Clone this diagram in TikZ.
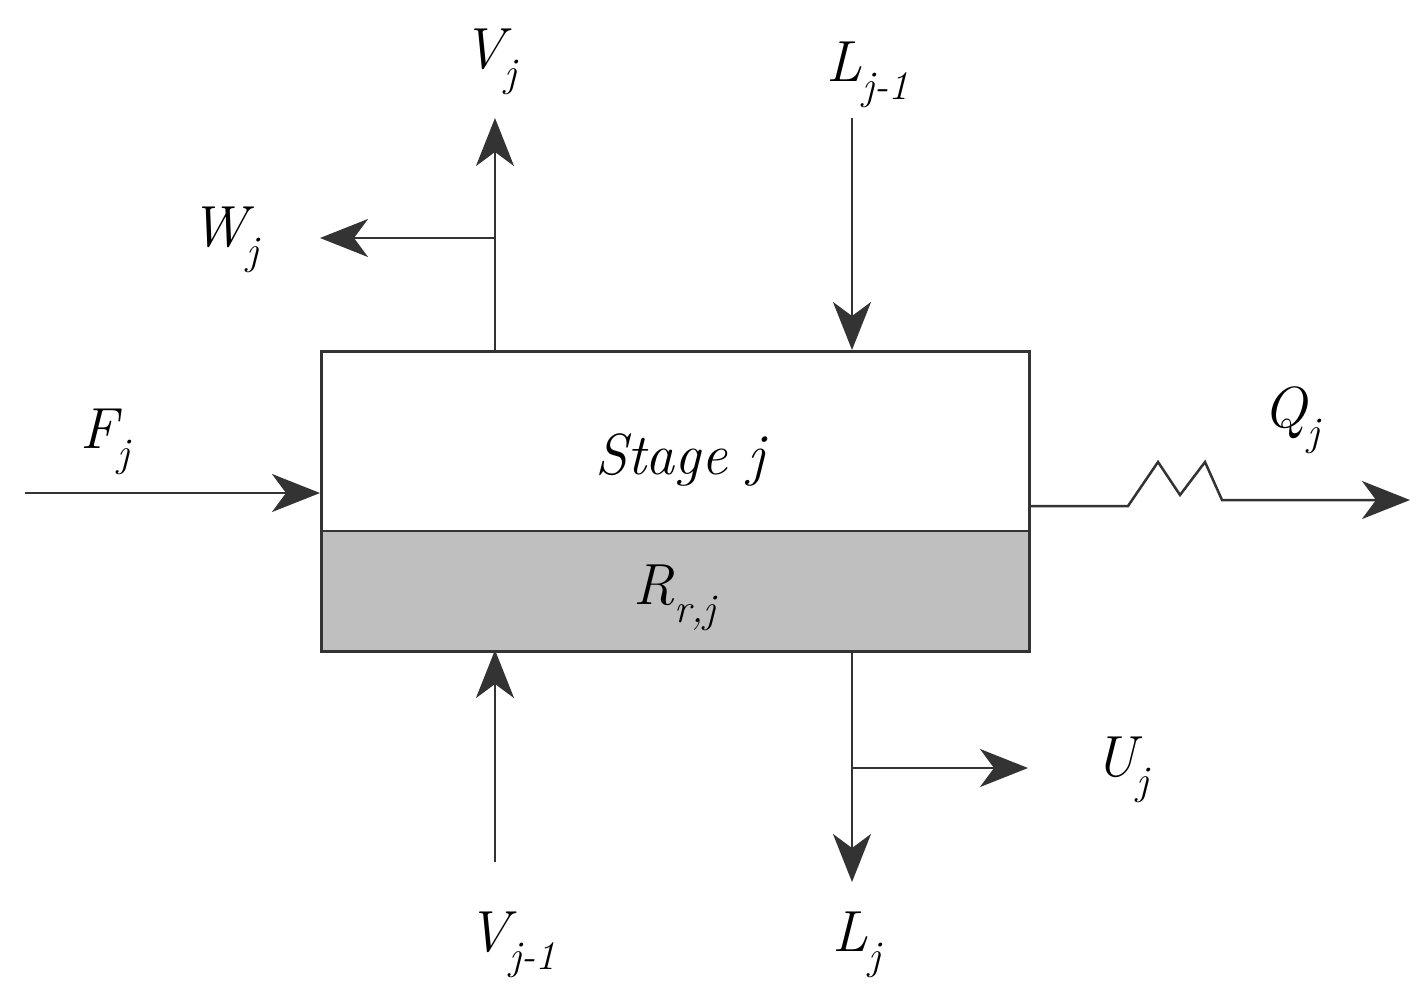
\documentclass[tikz,border=0pt]{standalone}
\usetikzlibrary{arrows.meta}
\begin{document}
\begin{tikzpicture}[x=1pt,y=-1pt,
  ln/.style={line width=2.5pt,draw=black!80},
  ar/.style={ln,-{Stealth[length=48pt,width=38pt,inset=14pt]}},
  lab/.style={font=\fontsize{58}{60}\selectfont\itshape,inner sep=0}]
\useasboundingbox (0,0) rectangle (1423,1007);
\fill[black!25] (320,531) rectangle (1028,650);
\node[draw,line width=2.5pt,draw=black!80,minimum width=708pt,minimum height=300pt,anchor=north west,inner sep=0] (box) at (320,350) {};
\draw[ln] (320,531) -- (1028,531);
\coordinate (vt) at (495,118);
\coordinate (vb) at (495,350);
\coordinate (wj) at (495,238);
\coordinate (wl) at (320,238);
\coordinate (lt) at (852,118);
\coordinate (lb) at (852,350);
\coordinate (fl) at (25,493);
\coordinate (fr) at (320,493);
\coordinate (v1b) at (495,862);
\coordinate (v1t) at (495,650);
\coordinate (ljt) at (852,650);
\coordinate (ljb) at (852,882);
\coordinate (uj) at (852,768);
\coordinate (ujr) at (1028,768);
\coordinate (q0) at (1028,506);
\coordinate (qe) at (1410,500);
\draw[ar] (vb) -- (vt);
\draw[ar] (wj) -- (wl);
\draw[ar] (lt) -- (lb);
\draw[ar] (fl) -- (fr);
\draw[ar] (v1b) -- (v1t);
\draw[ar] (ljt) -- (ljb);
\draw[ar] (uj) -- (ujr);
\draw[ar] (q0) -- (1128,506) -- (1158,462) -- (1180,495) -- (1205,462) -- (1222,500) -- (qe);
\node[lab] (Vj) at (490,62) {V\textsubscript{j}};
\node[lab] (Lj1) at (868,75) {L\textsubscript{j-1}};
\node[lab] (Wj) at (225,240) {W\textsubscript{j}};
\node[lab] (Fj) at (105,442) {F\textsubscript{j}};
\node[lab] (st) at (680,460) {Stage j};
\node[lab] (R) at (675,598) {R\textsubscript{r,j}};
\node[lab] (Qj) at (1292,420) {Q\textsubscript{j}};
\node[lab] (Uj) at (1122,770) {U\textsubscript{j}};
\node[lab] (Vj1) at (512,945) {V\textsubscript{j-1}};
\node[lab] (Lj) at (857,945) {L\textsubscript{j}};
\end{tikzpicture}
\end{document}
